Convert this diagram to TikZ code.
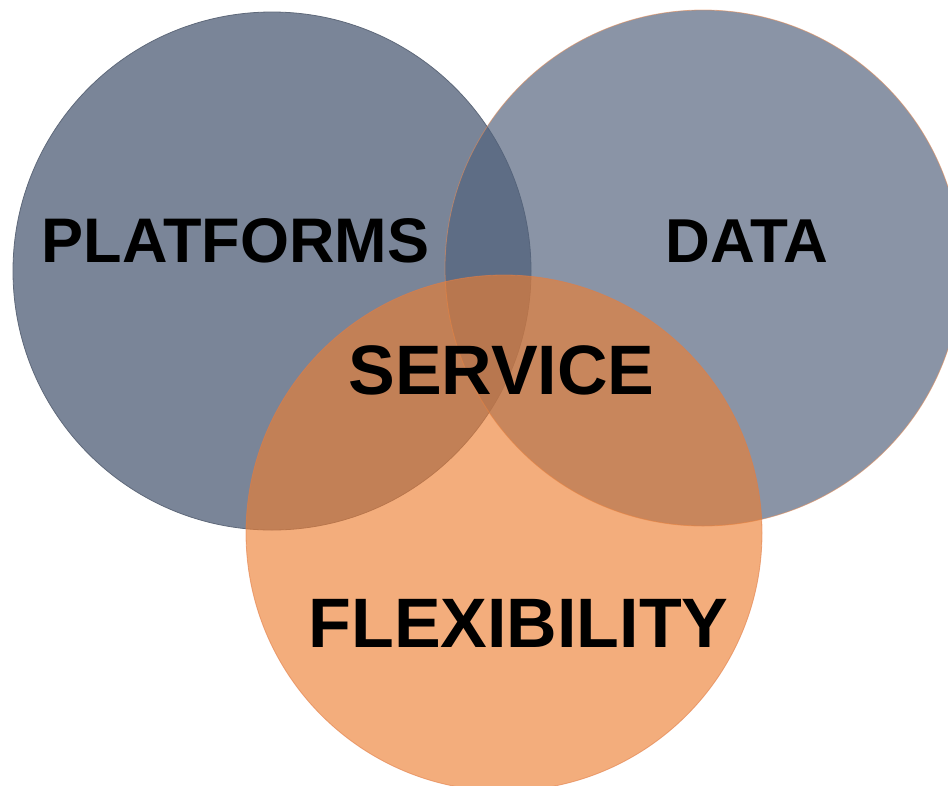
\documentclass[tikz,border=0pt]{standalone}
\usepackage{fontspec}
\setmainfont{Liberation Sans}
\definecolor{platfill}{RGB}{122,133,152}
\definecolor{platrim}{RGB}{95,105,122}
\definecolor{datafill}{RGB}{82,98,124}
\definecolor{datarim}{RGB}{225,140,90}
\definecolor{orfill}{RGB}{236,126,50}
\definecolor{orrim}{RGB}{225,125,70}
\tikzset{
  lbl/.style={inner sep=0pt, text=black, font=\bfseries},
}
\begin{document}
\begin{tikzpicture}[x=1pt,y=-1pt]
\useasboundingbox (0,0) rectangle (948,785);
\begin{scope}
\clip (0,0) rectangle (948,785);
\fill[platfill] (272,271) circle[radius=259];
\draw[platrim, line width=0.8pt] (272,271) circle[radius=259];
\fill[datafill, fill opacity=0.68] (703,268) circle[radius=258];
\draw[datarim, line width=0.8pt, draw opacity=0.6] (703,268) circle[radius=258];
\fill[orfill, fill opacity=0.64] (504,533) circle[radius=258];
\draw[orrim, line width=0.8pt, draw opacity=0.6] (504,533) circle[radius=258];
\end{scope}
\node[lbl, font=\fontsize{63}{63}\selectfont\bfseries] (plat) at (235.5,241) {PLATFORMS};
\node[lbl, font=\fontsize{62}{62}\selectfont\bfseries] (data) at (747,241.5) {DATA};
\node[lbl, font=\fontsize{70}{70}\selectfont\bfseries] (serv) at (501.5,370) {SERVICE};
\node[lbl, font=\fontsize{70}{70}\selectfont\bfseries] (flex) at (518.5,623.5) {FLEXIBILITY};
\end{tikzpicture}
\end{document}
